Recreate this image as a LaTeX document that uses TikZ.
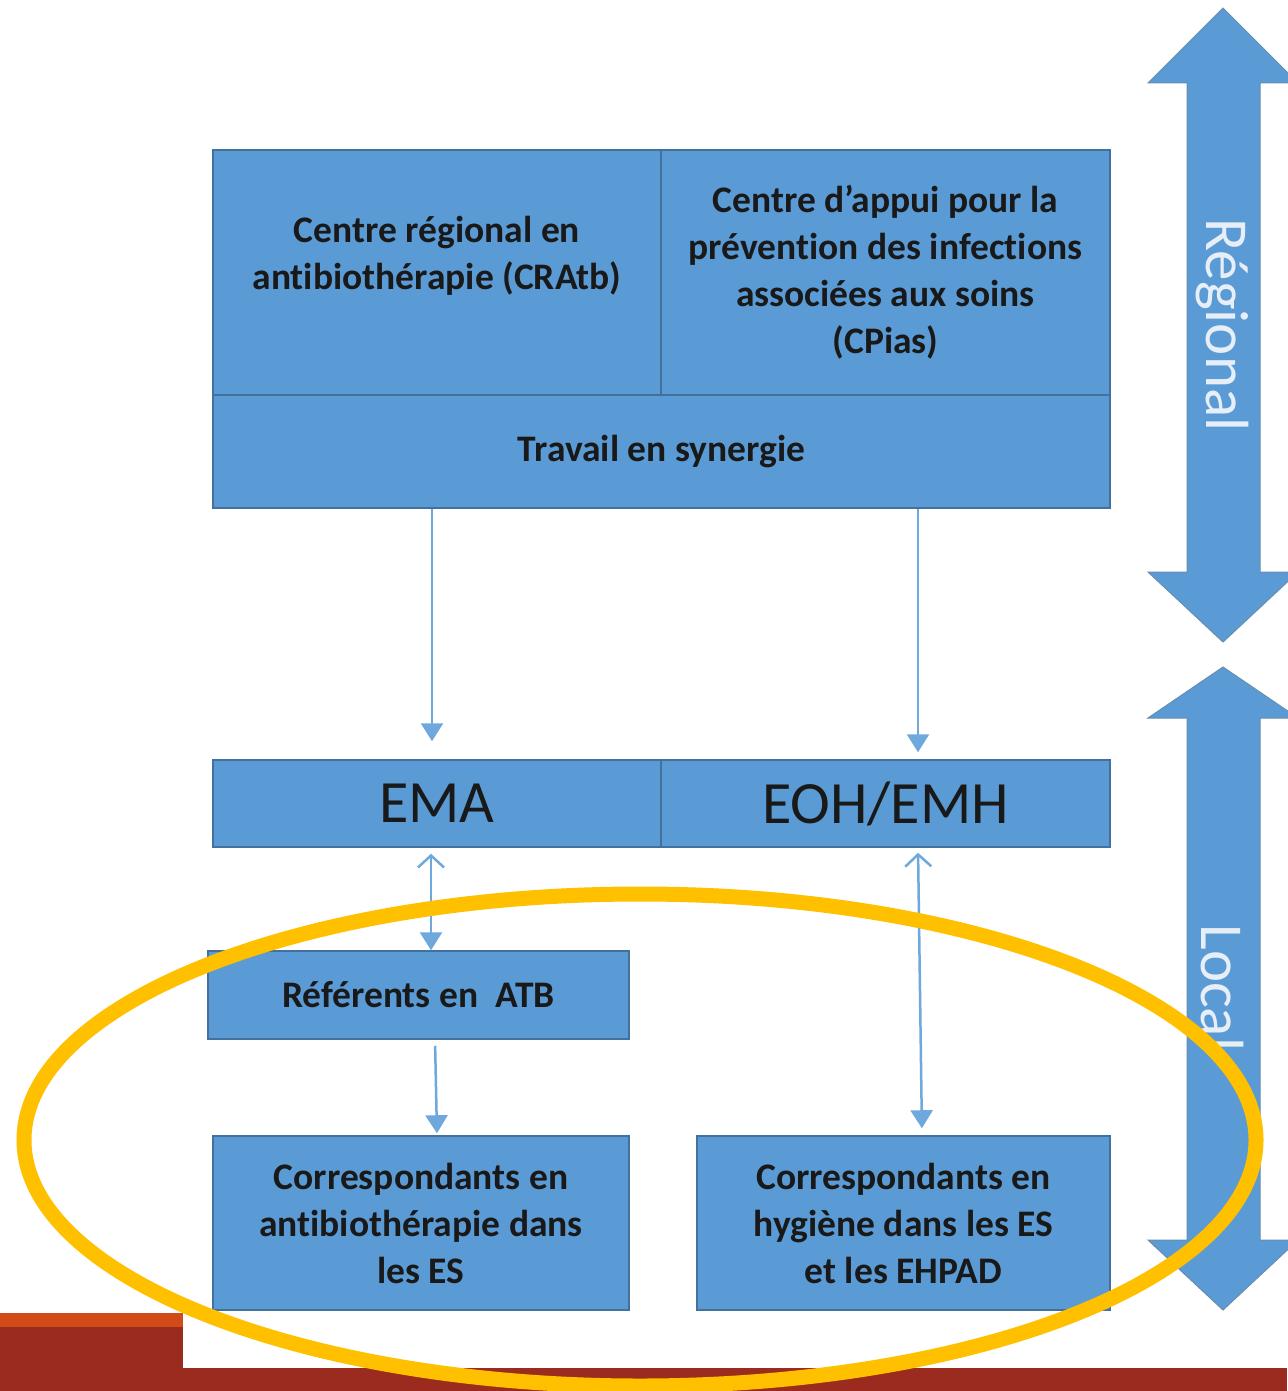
\documentclass[tikz,border=0pt]{standalone}
\usepackage{fontspec}
\setmainfont[Ligatures=NoCommon]{Carlito}
\usetikzlibrary{arrows.meta}
\definecolor{boxblue}{HTML}{5B9BD5}
\definecolor{boxedge}{HTML}{41719C}
\definecolor{arrblue}{HTML}{6FA8DC}
\definecolor{ringyellow}{HTML}{FFC000}
\definecolor{darkred}{HTML}{9B2B1F}
\definecolor{orangered}{HTML}{D24A17}
\definecolor{paletext}{HTML}{E6EFF8}
\tikzset{
  bluebox/.style={draw=boxedge, line width=1.5pt, fill=boxblue, inner sep=0pt, align=center,
    font=\fontsize{37.5}{47}\selectfont\bfseries, text=black!90},
  flow/.style={draw=arrblue, line width=2.5pt, -{Triangle[length=18pt,width=22pt]}},
  dflow/.style={draw=arrblue, line width=2.5pt, {Straight Barb[length=12pt,width=26pt,line width=2.5pt]}-{Triangle[length=18pt,width=22pt]}},
  bigarrow/.style={fill=boxblue, draw=boxedge!80, line width=1pt},
  sidetext/.style={font=\fontsize{61}{64}\selectfont, text=paletext, rotate=-90}
}
\begin{document}
\begin{tikzpicture}[x=1pt,y=-1pt]
\useasboundingbox (0,0) rectangle (1287,1391);
\fill[white] (0,0) rectangle (1287,1391);

% bottom bars
\fill[darkred] (0,1368) rectangle (1287,1391);
\fill[darkred] (0,1313) rectangle (183,1391);
\fill[orangered] (0,1313) rectangle (183,1327);

% regional boxes
\node[bluebox, minimum width=897, minimum height=113] (trav) at (661.5,451.5) {Travail en synergie};
\node[bluebox, minimum width=448, minimum height=245] (cratb) at (437,272.5) {};
\node[font=\fontsize{37.5}{47}\selectfont\bfseries, text=black!90, align=center] (cratbtxt) at (437,256) {Centre régional en\\antibiothérapie (CRAtb)};
\node[bluebox, minimum width=449, minimum height=245] (cpias) at (885.5,272.5) {Centre d’appui pour la\\prévention des infections\\associées aux soins\\(CPias)};

% local boxes
\node[bluebox, font=\fontsize{60}{66}\selectfont, minimum width=448, minimum height=87] (ema) at (437,803.5) {EMA};
\node[bluebox, font=\fontsize{60}{66}\selectfont, minimum width=449, minimum height=87] (eoh) at (885.5,803.5) {EOH/EMH};
\node[bluebox, minimum width=421, minimum height=88] (ref) at (418.5,995) {Référents en~~ATB};
\node[bluebox, minimum width=416, minimum height=174] (corra) at (421,1223) {Correspondants en\\antibiothérapie dans\\les ES};
\node[bluebox, minimum width=413, minimum height=174] (corrh) at (903.5,1223) {Correspondants en\\hygiène dans les ES\\et les EHPAD};

% connectors
\draw[flow, shorten >=18pt] ([xshift=-229.5]trav.south) -- ([xshift=-5]ema.north);
\draw[flow, shorten >=7pt] ([xshift=256.5]trav.south) -- ([xshift=32.5]eoh.north);
\draw[dflow, shorten <=6pt] ([xshift=-6]ema.south) -- ([xshift=12.5]ref.north);
\draw[flow, shorten <=6pt, shorten >=2pt] ([xshift=16.5]ref.south) -- ([xshift=16]corra.north);
\draw[dflow, shorten <=5pt, shorten >=7pt] ([xshift=32.5]eoh.south) -- ([xshift=18.5]corrh.north);

% side arrows
\draw[bigarrow] (1223,8) -- (1298,83) -- (1260,83) -- (1260,572) -- (1298,572) -- (1223,642)
  -- (1148,572) -- (1187,572) -- (1187,83) -- (1148,83) -- cycle;
\node[sidetext] (regional) at (1222,325) {Régional};
\draw[bigarrow] (1223,667) -- (1298,718) -- (1260,718) -- (1260,1240) -- (1298,1240) -- (1223,1310)
  -- (1148,1240) -- (1187,1240) -- (1187,718) -- (1148,718) -- cycle;
\node[sidetext] (local) at (1222,988) {Local};

% highlight ring
\draw[ringyellow, line width=15pt] (640,1140) ellipse [x radius=616, y radius=246];
\end{tikzpicture}
\end{document}
